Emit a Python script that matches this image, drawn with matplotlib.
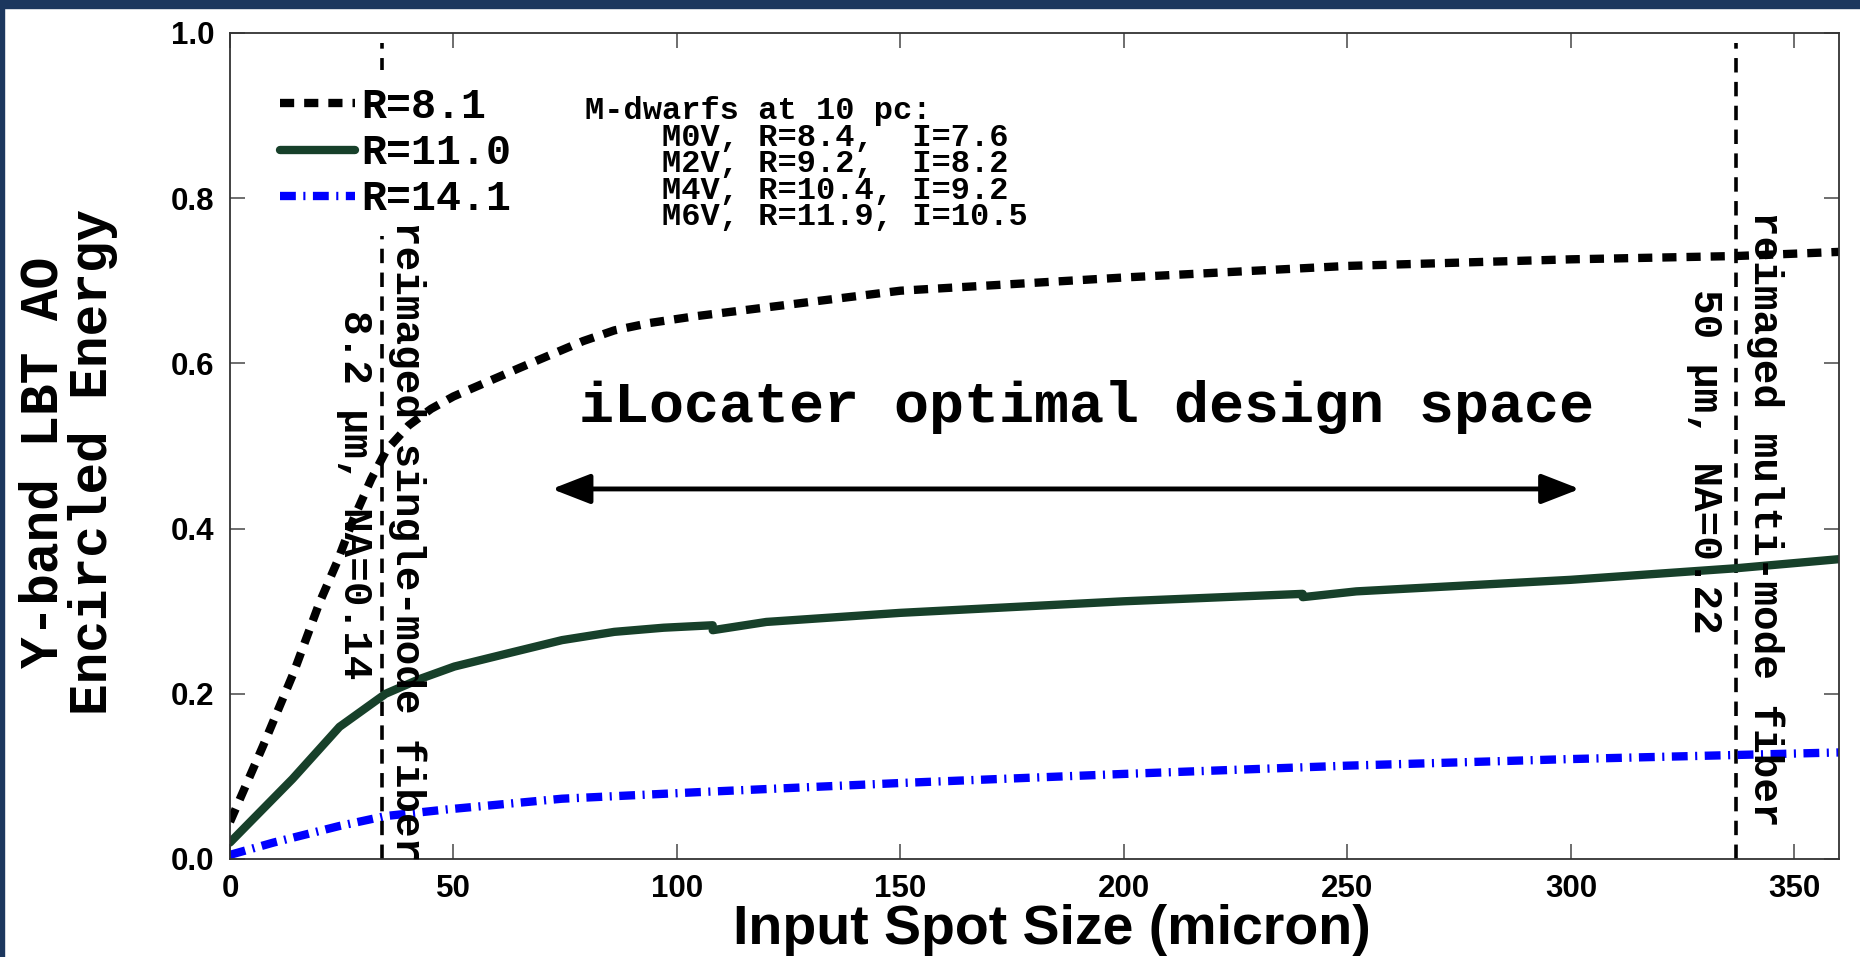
import matplotlib
matplotlib.use("Agg")
import matplotlib.pyplot as plt
from matplotlib import font_manager
from matplotlib.patches import Rectangle

# curves: encircled energy vs input spot size (micron)
x_r81 = [0, 7.4, 14.2, 20, 24, 27.5, 31.6, 35, 40, 45, 50, 65, 79, 86, 94, 104, 150, 200, 250, 300, 337, 360]
y_r81 = [0.045, 0.137, 0.225, 0.31, 0.36, 0.41, 0.46, 0.495, 0.525, 0.545, 0.56, 0.595, 0.627, 0.64, 0.649,
         0.657, 0.688, 0.704, 0.718, 0.726, 0.730, 0.735]

# R=11.0 was drawn in three pieces that do not quite join
x_r11_a = [0, 14, 24.5, 34.8, 42.5, 50.2, 62.2, 74.3, 86, 97, 108]
y_r11_a = [0.02, 0.097, 0.16, 0.2, 0.218, 0.233, 0.249, 0.265, 0.275, 0.280, 0.283]
x_r11_b = [108, 120, 150, 200, 240]
y_r11_b = [0.277, 0.287, 0.298, 0.312, 0.321]
x_r11_c = [240, 252, 300, 337, 360]
y_r11_c = [0.317, 0.324, 0.338, 0.352, 0.363]

x_r141 = [0, 9.8, 24.5, 34.8, 48.5, 74.3, 105, 150, 200, 250, 300, 360]
y_r141 = [0.005, 0.02, 0.04, 0.052, 0.06, 0.073, 0.081, 0.092, 0.103, 0.113, 0.121, 0.129]

labels = ['R=8.1', 'R=11.0', 'R=14.1']
fiber_x = [34, 337]
design_space = [72, 302]

names = {f.name for f in font_manager.fontManager.ttflist}
narrow = 'Liberation Sans Narrow' if 'Liberation Sans Narrow' in names else 'Liberation Sans'
mono = 'Liberation Mono'
navy = '#1c375e'
green = '#17402a'

fig = plt.figure(figsize=(18.6, 9.57), dpi=100, facecolor='white')
fig.patches.append(Rectangle((0, 1 - 8 / 957), 1, 8 / 957, transform=fig.transFigure, color=navy, zorder=0))
fig.patches.append(Rectangle((0, 0), 4 / 1860, 1, transform=fig.transFigure, color=navy, zorder=0))

ax = fig.add_axes([230 / 1860, 1 - 859 / 957, 1609 / 1860, 826 / 957])

l1, = ax.plot(x_r81, y_r81, color='black', lw=6, dashes=(1.7, 1.2), dash_capstyle='butt', label=labels[0])
l2, = ax.plot(x_r11_a, y_r11_a, color=green, lw=6, solid_capstyle='round', label=labels[1])
ax.plot(x_r11_b, y_r11_b, color=green, lw=6, solid_capstyle='round')
ax.plot(x_r11_c, y_r11_c, color=green, lw=6, solid_capstyle='round')
l3, = ax.plot(x_r141, y_r141, color='#0000ff', lw=6, dashes=(1.9, 0.9, 0.25, 0.9), label=labels[2])

for xv in fiber_x:
    ax.axvline(xv, ymin=0, ymax=0.988, color='black', lw=2.6, dashes=(4, 2.6), zorder=1)

leg = ax.legend(handles=[l1, l2, l3], loc='upper left', bbox_to_anchor=(0.021, 0.955),
                prop={'family': mono, 'weight': 'bold', 'size': 30},
                frameon=True, facecolor='white', edgecolor='none', framealpha=1,
                handlelength=1.8, handletextpad=0.14, labelspacing=0.15, borderpad=0.4,
                borderaxespad=0)
leg.set_zorder(5)

ax.text(79.4, 0.841, 'M-dwarfs at 10 pc:\n    M0V, R=8.4,  I=7.6\n    M2V, R=9.2,  I=8.2\n'
        '    M4V, R=10.4, I=9.2\n    M6V, R=11.9, I=10.5',
        family=mono, weight='bold', size=23, va='center', ha='left', linespacing=0.85)

# fiber labels sit above the legend box so nothing of them is hidden
ax.text(39.6, 0.772, 'reimaged single-mode fiber', family=mono, weight='bold', size=29.5,
        rotation=270, ha='center', va='top', zorder=6)
ax.text(28, 0.665, '8.2 μm, NA=0.14', family=mono, weight='bold', size=29.5,
        rotation=270, ha='center', va='top', zorder=6)
ax.text(343.4, 0.785, 'reimaged multi-mode fiber', family=mono, weight='bold', size=29.5,
        rotation=270, ha='center', va='top', zorder=6)
ax.text(330, 0.69, '50 μm, NA=0.22', family=mono, weight='bold', size=29.5,
        rotation=270, ha='center', va='top', zorder=6)

ax.annotate('', xy=(design_space[1], 0.448), xytext=(design_space[0], 0.448),
            arrowprops=dict(arrowstyle='<|-|>,head_length=0.9,head_width=0.35', lw=3.5,
                            color='black', mutation_scale=26, shrinkA=0, shrinkB=0))
ax.text(191.7, 0.547, 'iLocater optimal design space', family=mono, weight='bold', size=42,
        ha='center', va='center')

ax.set_xlim(0, 360)
ax.set_ylim(0, 1)
ax.set_xticks([0, 50, 100, 150, 200, 250, 300, 350])
ax.set_yticks([0, 0.2, 0.4, 0.6, 0.8, 1.0])
ax.set_yticklabels(['0.0', '0.2', '0.4', '0.6', '0.8', '1.0'])
ax.tick_params(direction='in', length=11, width=1.2, color='#555555', top=True, right=True,
               labelsize=22.5, pad=11)
for lab in ax.get_xticklabels() + ax.get_yticklabels():
    lab.set_family('Liberation Sans')
    lab.set_weight('bold')
for sp in ax.spines.values():
    sp.set_linewidth(1.3)
    sp.set_color('#333333')

fig.text(68 / 1860, 1 - 462 / 957, 'Y-band LBT AO\nEncircled Energy', family=mono, weight='bold',
         size=38, rotation=90, ha='center', va='center', multialignment='center', linespacing=1.0)
fig.text(1052 / 1860, 13 / 957, 'Input Spot Size (micron)', family=narrow, weight='bold', size=40,
         ha='center', va='baseline')

fig.savefig('out.png', dpi=100, facecolor='white')
